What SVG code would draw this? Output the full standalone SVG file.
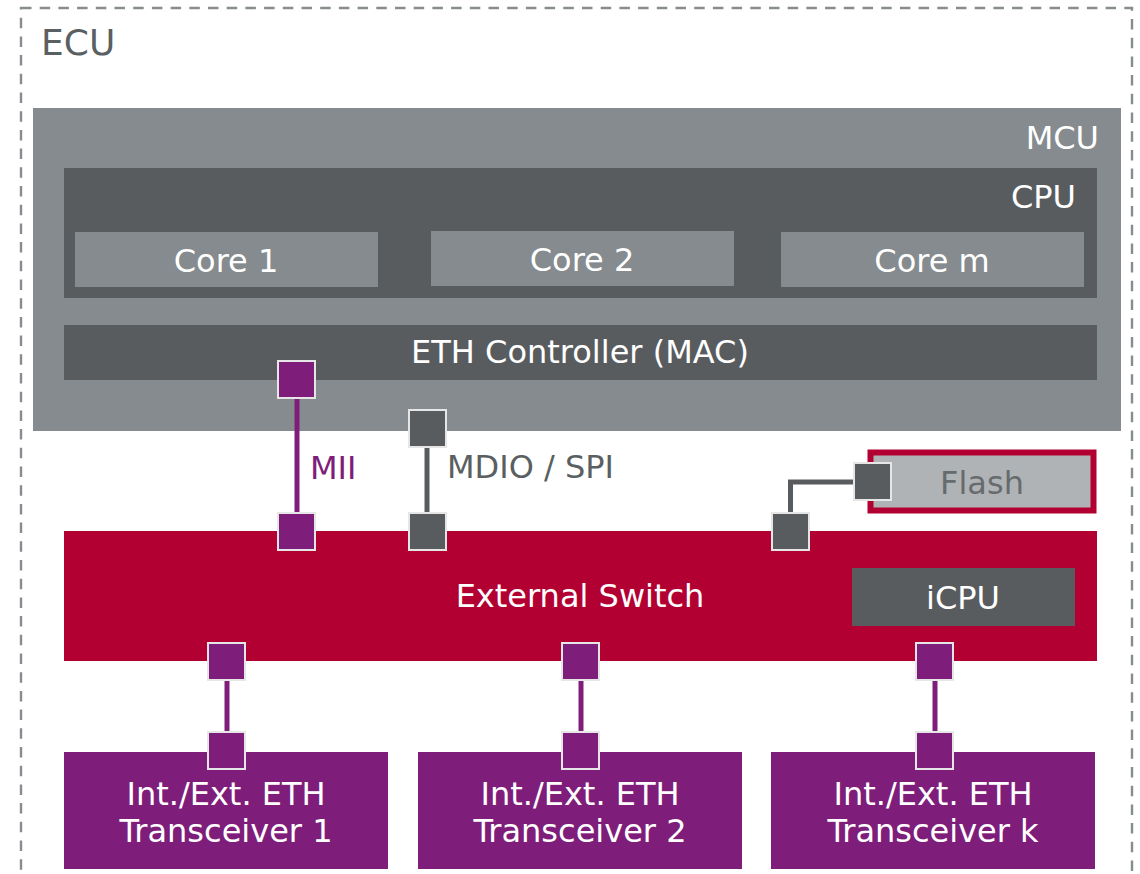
<svg xmlns="http://www.w3.org/2000/svg" width="1140" height="874" viewBox="0 0 1140 874">
  <style>
    .lbl { font-family: "DejaVu Sans", Verdana, sans-serif; font-size: 32px; }
    .w { fill: #ffffff; }
    .mid { text-anchor: middle; }
    .end { text-anchor: end; }
    .grey { fill: #858b8e; }
    .dark { fill: #585c5f; }
    .red { fill: #b30032; }
    .purple { fill: #7e1e7a; }
    .port-p { fill: #7e1e7a; stroke: #e6e6e6; stroke-width: 2; }
    .port-d { fill: #585c5f; stroke: #e6e6e6; stroke-width: 2; }
    .line-p { stroke: #7e1e7a; stroke-width: 5; fill: none; }
    .line-d { stroke: #585c5f; stroke-width: 5; fill: none; }
  </style>

  <rect width="1140" height="874" fill="#ffffff"/>

  <!-- ECU boundary -->
  <g id="ecu">
    <rect x="21" y="8" width="1111" height="900" fill="none" stroke="#878c8f" stroke-width="2.4" stroke-dasharray="10.5 8.2"/>
    <text class="lbl" x="41" y="55" fill="#5a5f62" style="font-size:36px">ECU</text>
  </g>

  <!-- MCU -->
  <g id="mcu">
    <rect class="grey" x="33" y="108" width="1088" height="323"/>
    <text class="lbl w end" x="1099" y="149">MCU</text>
  </g>

  <!-- CPU with cores -->
  <g id="cpu">
    <rect class="dark" x="64" y="168" width="1033" height="130"/>
    <text class="lbl w end" x="1076" y="208">CPU</text>
  </g>
  <g id="core1">
    <rect class="grey" x="75" y="232" width="303" height="55"/>
    <text class="lbl w mid" x="226" y="272">Core 1</text>
  </g>
  <g id="core2">
    <rect class="grey" x="431" y="231" width="303" height="55"/>
    <text class="lbl w mid" x="582" y="271">Core 2</text>
  </g>
  <g id="corem">
    <rect class="grey" x="781" y="232" width="303" height="55"/>
    <text class="lbl w mid" x="932" y="272">Core m</text>
  </g>

  <!-- Ethernet controller -->
  <g id="eth-controller">
    <rect class="dark" x="64" y="325" width="1033" height="55"/>
    <text class="lbl w mid" x="580" y="363">ETH Controller (MAC)</text>
  </g>

  <!-- Flash memory -->
  <g id="flash">
    <rect x="870.5" y="452.5" width="223" height="58" fill="#b0b3b6" stroke="#b30032" stroke-width="6"/>
    <text class="lbl mid" x="982" y="494" fill="#666b6e">Flash</text>
  </g>

  <!-- External switch -->
  <g id="external-switch">
    <rect class="red" x="64" y="531" width="1033" height="130"/>
    <text class="lbl w mid" x="580" y="607">External Switch</text>
  </g>
  <g id="icpu">
    <rect class="dark" x="852" y="568" width="223" height="58"/>
    <text class="lbl w mid" x="963" y="609">iCPU</text>
  </g>

  <!-- Transceivers -->
  <g id="transceiver1">
    <rect class="purple" x="64" y="752" width="324" height="117"/>
    <text class="lbl w mid" x="226" y="805">Int./Ext. ETH</text>
    <text class="lbl w mid" x="226" y="842">Transceiver 1</text>
  </g>
  <g id="transceiver2">
    <rect class="purple" x="418" y="752" width="324" height="117"/>
    <text class="lbl w mid" x="580" y="805">Int./Ext. ETH</text>
    <text class="lbl w mid" x="580" y="842">Transceiver 2</text>
  </g>
  <g id="transceiverk">
    <rect class="purple" x="771" y="752" width="324" height="117"/>
    <text class="lbl w mid" x="933" y="805">Int./Ext. ETH</text>
    <text class="lbl w mid" x="933" y="842">Transceiver k</text>
  </g>

  <!-- Connectors -->
  <g id="connectors">
    <line class="line-p" x1="297" y1="399" x2="297" y2="513"/>
    <line class="line-d" x1="427" y1="447" x2="427" y2="513"/>
    <polyline class="line-d" points="853,482 790.5,482 790.5,513"/>
    <line class="line-p" x1="227" y1="681" x2="227" y2="731"/>
    <line class="line-p" x1="581" y1="681" x2="581" y2="731"/>
    <line class="line-p" x1="935" y1="681" x2="935" y2="731"/>
    <text class="lbl" x="310" y="479" fill="#7e1e7a">MII</text>
    <text class="lbl" x="447" y="478" fill="#5a5f62">MDIO / SPI</text>
  </g>

  <!-- Ports -->
  <g id="ports">
    <rect class="port-p" x="278" y="361" width="37" height="37"/>
    <rect class="port-p" x="278" y="513" width="37" height="37"/>
    <rect class="port-d" x="409" y="410" width="37" height="37"/>
    <rect class="port-d" x="409" y="513" width="37" height="37"/>
    <rect class="port-d" x="772" y="513" width="37" height="37"/>
    <rect class="port-d" x="854" y="463" width="37" height="37"/>
    <rect class="port-p" x="208" y="643" width="37" height="37"/>
    <rect class="port-p" x="562" y="643" width="37" height="37"/>
    <rect class="port-p" x="916" y="643" width="37" height="37"/>
    <rect class="port-p" x="208" y="732" width="37" height="37"/>
    <rect class="port-p" x="562" y="732" width="37" height="37"/>
    <rect class="port-p" x="916" y="732" width="37" height="37"/>
  </g>
</svg>
